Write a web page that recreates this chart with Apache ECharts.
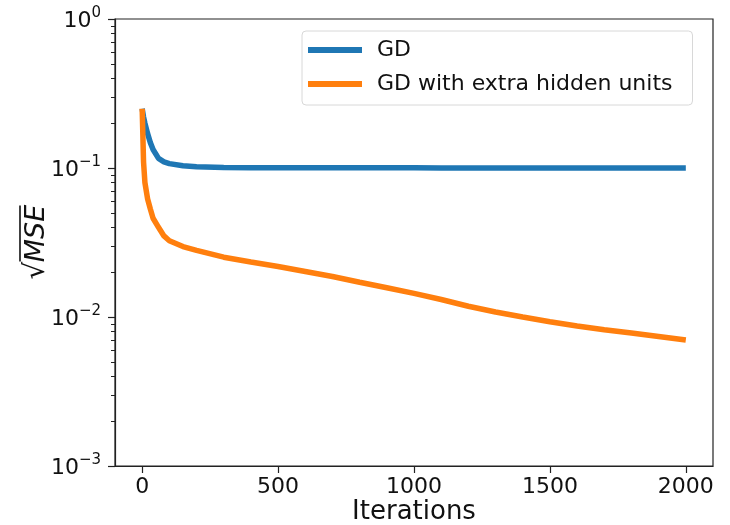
<!DOCTYPE html>
<html>
<head>
<meta charset="utf-8">
<script src="https://cdn.jsdelivr.net/npm/echarts@6/dist/echarts.min.js"></script>
<style>
  html, body { margin: 0; padding: 0; background: #fff; }
  #chart { width: 730px; height: 525px; }
</style>
</head>
<body>
<div id="chart"></div>
<script>
// iterations sampled along the curves
const iterations = [0, 5, 10, 20, 30, 40, 60, 80, 100, 150, 200, 300, 400, 500, 600, 700,
  800, 900, 1000, 1100, 1200, 1300, 1400, 1500, 1600, 1700, 1800, 1900, 2000];
// sqrt(MSE), plain GD
const gdValues = [0.25, 0.22, 0.2, 0.17, 0.148, 0.133, 0.116, 0.11, 0.107, 0.1035, 0.102, 0.1008,
  0.1005, 0.1004, 0.1003, 0.1003, 0.1002, 0.1002, 0.1002, 0.1001, 0.1001, 0.1001, 0.1001, 0.1001,
  0.1, 0.1, 0.1, 0.1, 0.1];
// sqrt(MSE), GD with extra hidden units
const gdExtraValues = [0.25, 0.11, 0.08, 0.062, 0.053, 0.046, 0.04, 0.035, 0.0325, 0.0297, 0.028,
  0.0252, 0.0234, 0.0218, 0.0202, 0.0187, 0.0171, 0.0157, 0.0144, 0.0131, 0.0118, 0.0108, 0.0100,
  0.0093, 0.0087, 0.0082, 0.0078, 0.0074, 0.0070];

const seriesNames = ['GD', 'GD with extra hidden units'];
const xTicks = [0, 500, 1000, 1500, 2000];
const yTicks = [0.001, 0.01, 0.1, 1];
const yMinorTicks = [0.002, 0.003, 0.004, 0.005, 0.006, 0.007, 0.008, 0.009,
  0.02, 0.03, 0.04, 0.05, 0.06, 0.07, 0.08, 0.09,
  0.2, 0.3, 0.4, 0.5, 0.6, 0.7, 0.8, 0.9];

const FONT = 'DejaVu Sans';
const AXIS_COLOR = '#222';

function pairs(xs, ys) {
  return xs.map((x, i) => [x, ys[i]]);
}

function expLabel(value) {
  const e = Math.round(Math.log10(value));
  const sup = e === 0 ? '0' : '\u2212' + (-e);
  return '{b|10}{s|' + sup + '}';
}

const option = {
  animation: false,
  grid: {
    left: 115, top: 19, right: 17, bottom: 59,
    outerBoundsMode: 'none',
    show: true, borderColor: AXIS_COLOR, borderWidth: 1.2, backgroundColor: '#fff'
  },
  legend: {
    orient: 'vertical',
    left: 302,
    top: 31,
    padding: [7, 20, 9, 6],
    itemGap: 10,
    itemWidth: 54,
    itemHeight: 6,
    icon: 'rect',
    backgroundColor: 'rgba(255,255,255,0.8)',
    borderColor: '#d8d8d8',
    borderWidth: 1,
    borderRadius: 4,
    textStyle: { fontFamily: FONT, fontSize: 22, color: '#111', lineHeight: 24, padding: [0, 0, 0, 10] },
    data: seriesNames
  },
  xAxis: {
    type: 'value',
    min: -100,
    max: 2100,
    name: 'Iterations',
    nameLocation: 'middle',
    nameGap: 33,
    nameMoveOverlap: false,
    nameTextStyle: { fontFamily: FONT, fontSize: 26, color: '#111' },
    axisLine: { show: true, onZero: false, lineStyle: { color: AXIS_COLOR, width: 1.2 } },
    axisTick: { show: true, length: 7, customValues: xTicks, lineStyle: { color: AXIS_COLOR, width: 1.2 } },
    axisLabel: {
      customValues: xTicks, margin: 10, fontFamily: FONT, fontSize: 22, color: '#111',
      formatter: v => String(v)
    },
    splitLine: { show: false }
  },
  yAxis: [{
    type: 'log',
    logBase: 10,
    min: 0.001,
    max: 1,
    // sqrt sign, then an overline row above "MSE"
    name: '{sp|}{ov|}\n{r|\u221a}{m|MSE}',
    nameLocation: 'middle',
    nameRotate: 90,
    nameGap: 64,
    nameMoveOverlap: false,
    nameTextStyle: {
      rich: {
        sp: { width: 18, height: 2, lineHeight: 4 },
        ov: { width: 56, height: 1.6, lineHeight: 4, backgroundColor: '#111' },
        r: { width: 18, fontFamily: FONT, fontSize: 28, color: '#111', lineHeight: 29 },
        m: { width: 56, fontFamily: FONT, fontStyle: 'italic', fontSize: 27, color: '#111', lineHeight: 29 }
      }
    },
    axisLine: { show: true, onZero: false, lineStyle: { color: AXIS_COLOR, width: 1.2 } },
    axisTick: { show: true, length: 7, customValues: yTicks, lineStyle: { color: AXIS_COLOR, width: 1.2 } },
    axisLabel: {
      customValues: yTicks,
      margin: 14,
      formatter: expLabel,
      rich: {
        b: { fontFamily: FONT, fontSize: 22, color: '#111', verticalAlign: 'bottom', lineHeight: 26 },
        s: { fontFamily: FONT, fontSize: 15, color: '#111', verticalAlign: 'top', lineHeight: 26, padding: [0, 0, 10, 0] }
      }
    },
    splitLine: { show: false }
  }, {
    // minor ticks only
    type: 'log',
    logBase: 10,
    min: 0.001,
    max: 1,
    position: 'left',
    axisLine: { show: false, onZero: false },
    axisTick: { show: true, length: 4, customValues: yMinorTicks, lineStyle: { color: AXIS_COLOR, width: 1 } },
    axisLabel: { show: false },
    splitLine: { show: false }
  }],
  series: [{
    name: seriesNames[0],
    type: 'line',
    showSymbol: false,
    data: pairs(iterations, gdValues),
    lineStyle: { color: '#1f77b4', width: 5.5 },
    itemStyle: { color: '#1f77b4' }
  }, {
    name: seriesNames[1],
    type: 'line',
    showSymbol: false,
    data: pairs(iterations, gdExtraValues),
    lineStyle: { color: '#ff7f0e', width: 5.5 },
    itemStyle: { color: '#ff7f0e' }
  }]
};

const chart = echarts.init(document.getElementById('chart'));
chart.setOption(option);
</script>
</body>
</html>
